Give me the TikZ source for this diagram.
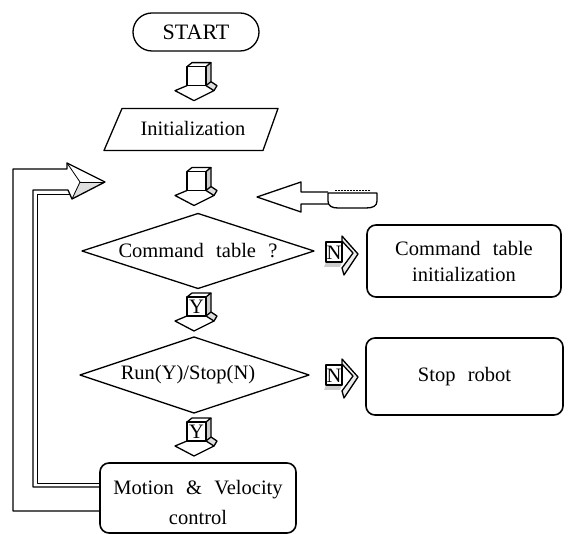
\documentclass[tikz,border=0pt]{standalone}
\usepackage{fontspec}
\setmainfont{Liberation Serif}
\usetikzlibrary{calc}
\newcommand{\dfont}{\fontsize{20.5}{27}\selectfont\spaceskip=0.6em plus 0.1em minus 0.05em\relax}
\newcommand{\dfontb}{\fontsize{20.5}{26}\selectfont\spaceskip=0.6em plus 0.1em minus 0.05em\relax}
\newcommand{\dfontc}{\fontsize{20.5}{30}\selectfont\spaceskip=0.6em plus 0.1em minus 0.05em\relax}
\tikzset{
  lw/.style={line width=1.3pt},
  thinl/.style={line width=0.8pt},
  txt/.style={font=\dfont, inner sep=0pt},
  rbox/.style={draw, line width=1.6pt, rounded corners=9pt, align=center, inner sep=0pt},
  pics/darrow/.style={code={
    \fill[gray!40] (19,4) -- (24,0) -- (24,19) -- (19,23) -- cycle;
    \fill[gray!25] (24,19) -- (30,23) -- (27,28) -- (19,23) -- cycle;
    \draw[lw] (0,4) -- (5,0) -- (24,0) -- (19,4);
    \draw[lw] (24,0) -- (24,19) -- (19,23);
    \draw[lw] (0,4) rectangle (19,23);
    \draw[lw] (0,23) -- (-12,28) -- (7,38) -- (27,28) -- (19,23);
    \draw[lw] (24,19) -- (30,23) -- (27,28);
    \node[txt] (-lab) at (9.5,14) {#1};
  }},
  pics/rarrow/.style={code={
    \fill[gray!40] (0,20) -- (16,20) -- (14,25) -- (-2,25) -- cycle;
    \draw[lw] (0,0) rectangle (16,20);
    \filldraw[lw, fill=gray!15] (16,-6) -- (32,12) -- (18,33) -- (16,26) -- (27,11) -- (16,-1) -- cycle;
    \node[txt] (-lab) at (8,10.5) {#1};
  }},
}
\begin{document}
\begin{tikzpicture}[x=1pt,y=-1pt,line join=round]
\useasboundingbox (0,0) rectangle (568,534);

% START
\node[draw, lw, rounded corners=19pt, minimum width=126pt, minimum height=38pt,
      font=\fontsize{22}{26}\selectfont, inner sep=0pt] (start) at (196,32) {START};
\pic (a1) at ($(start.south)+(-9,11)$) {darrow=};

% Initialization
\node[txt] (init) at (193,128.5) {Initialization};
\draw[lw] ($(init)+(-71,-20)$) -- ($(init)+(85,-20)$) -- ($(init)+(70,22)$) -- ($(init)+(-89,22)$) -- cycle;
\pic (a2) at ($(init)+(-6,39)$) {darrow=};

% Decision 1
\node[txt] (d1) at (198,251) {Command table ?};
\draw[lw] ($(d1)+(0,-37.5)$) -- ($(d1)+(116,0)$) -- ($(d1)+(0,37.5)$) -- ($(d1)+(-116,0)$) -- cycle;
\pic (n1) at ($(d1)+(128,-9)$) {rarrow=N};
\node[rbox, font=\dfontb, minimum width=194pt, minimum height=72pt] (cti) at (464,261) {Command table\\initialization};
\pic (a3) at ($(d1)+(-11,42)$) {darrow=Y};

% Decision 2
\node[txt] (d2) at (188,375) {Run(Y)/Stop(N)};
\draw[lw] ($(d2)+(6,-38)$) -- ($(d2)+(121,0)$) -- ($(d2)+(6,38)$) -- ($(d2)+(-108,0)$) -- cycle;
\pic (n2) at ($(d2)+(138,-10)$) {rarrow=N};
\node[rbox, font=\dfont, minimum width=197pt, minimum height=77pt] (stop) at (464.5,376.5) {Stop robot};
\pic (a4) at ($(d2)+(-1,43)$) {darrow=Y};

% Motion
\node[rbox, font=\dfontc, minimum width=196pt, minimum height=70pt] (motion) at (198,498) {\rule{0pt}{24pt}Motion \& Velocity\\control};

% feedback hollow arrow
\fill[gray!25] (80,182) -- (105,182) -- (72,199) -- cycle;
\draw[lw] ($(motion.west)+(0,13)$) -- (13,511) -- (13,169) -- (67,169) -- (67,163) -- (105,182)
      -- (72,199) -- (68,190) -- (33,190) -- (33,487) -- ($(motion.west)+(0,-11)$);
\draw[thinl] (67,163) -- (80,182) -- (72,199);
\draw[thinl] (80,182) -- (105,182);
\draw[thinl] (70,194) -- (37,194) -- (37,483) -- ($(motion.west)+(0,-15)$);

% incoming arrow from the right with tab
\draw[lw] (328,192) -- (301,192) -- (301,182) -- (257,197) -- (301,212) -- (301,204) -- (328,204);
\draw[lw] (328,193) -- (377,193) -- (377,201) .. controls (377,206) and (373,208) .. (366,208)
      -- (338,208) .. controls (332,208) and (328,206) .. (328,201) -- cycle;
\draw[thinl, dashed, dash pattern=on 2pt off 1pt] (335,190) -- (370,190);
\end{tikzpicture}
\end{document}
